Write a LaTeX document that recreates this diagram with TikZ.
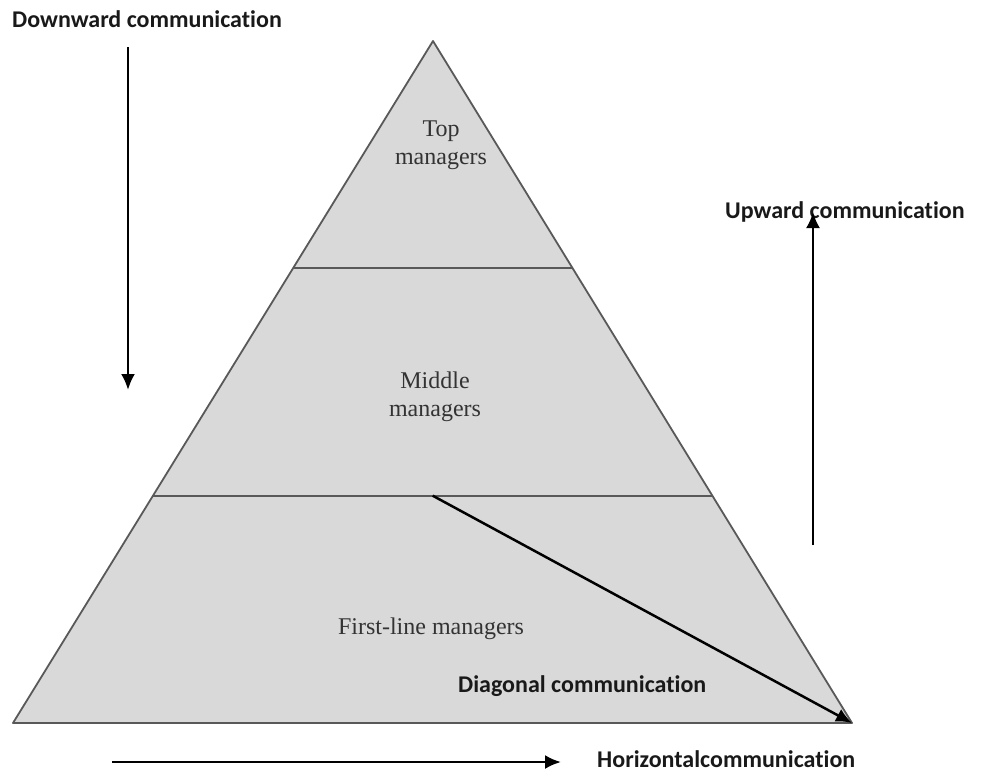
\documentclass[tikz,border=0pt]{standalone}
\usepackage{fontspec}
\setmainfont{Liberation Serif}
\newfontfamily\flowfont{Carlito}[Ligatures=NoCommon]
\usetikzlibrary{arrows.meta,calc}

\begin{document}
\begin{tikzpicture}[x=1pt,y=-1pt,
  level/.style={font=\fontsize{24}{28}\selectfont, align=center, text=black!80},
  flow/.style={font=\flowfont\bfseries\fontsize{24}{28}\selectfont, inner sep=0pt, anchor=base west, text=black!90},
  arr/.style={line width=2.5pt, -{Latex[length=16pt,width=14pt]}}]
\useasboundingbox (0,0) rectangle (982,772);
% pyramid
\coordinate (apex) at (433,41);
\coordinate (bl) at (13,723);
\coordinate (br) at (852,723);
\coordinate (tl) at ($(apex)!1/3!(bl)$);
\coordinate (tr) at ($(apex)!1/3!(br)$);
\coordinate (ml) at ($(apex)!2/3!(bl)$);
\coordinate (mr) at ($(apex)!2/3!(br)$);
\coordinate (mid) at ($(ml)!0.5!(mr)$);
\fill[black!15] (apex) -- (bl) -- (br) -- cycle;
\draw[line width=1.8pt, black!65, line join=round] (apex) -- (bl) -- (br) -- cycle;
\draw[line width=1.8pt, black!65] (tl) -- (tr);
\draw[line width=1.8pt, black!65] (ml) -- (mr);

\node[level] (top) at (441,145) {Top\\managers};
\node[level] (middle) at (435,397) {Middle\\managers};
\node[level] (first) at (431,629) {First-line managers};

% communication flows
\node[flow] (down) at (12,27) {Downward communication};
\node[flow] (up) at (725,218) {Upward communication};
\node[flow] (diag) at (458,692) {Diagonal communication};
\node[flow] (horiz) at (597,767) {Horizontalcommunication};

\coordinate (d1) at (128,47);
\coordinate (d2) at (128,390);
\coordinate (u1) at (813,545);
\coordinate (u2) at (813,212);
\coordinate (h1) at (112,762);
\coordinate (h2) at (561,762);
\draw[arr] (d1) -- (d2);
\draw[arr] (u1) -- (u2);
\draw[arr] (h1) -- (h2);
\draw[arr] (mid) -- (br);
\end{tikzpicture}
\end{document}
